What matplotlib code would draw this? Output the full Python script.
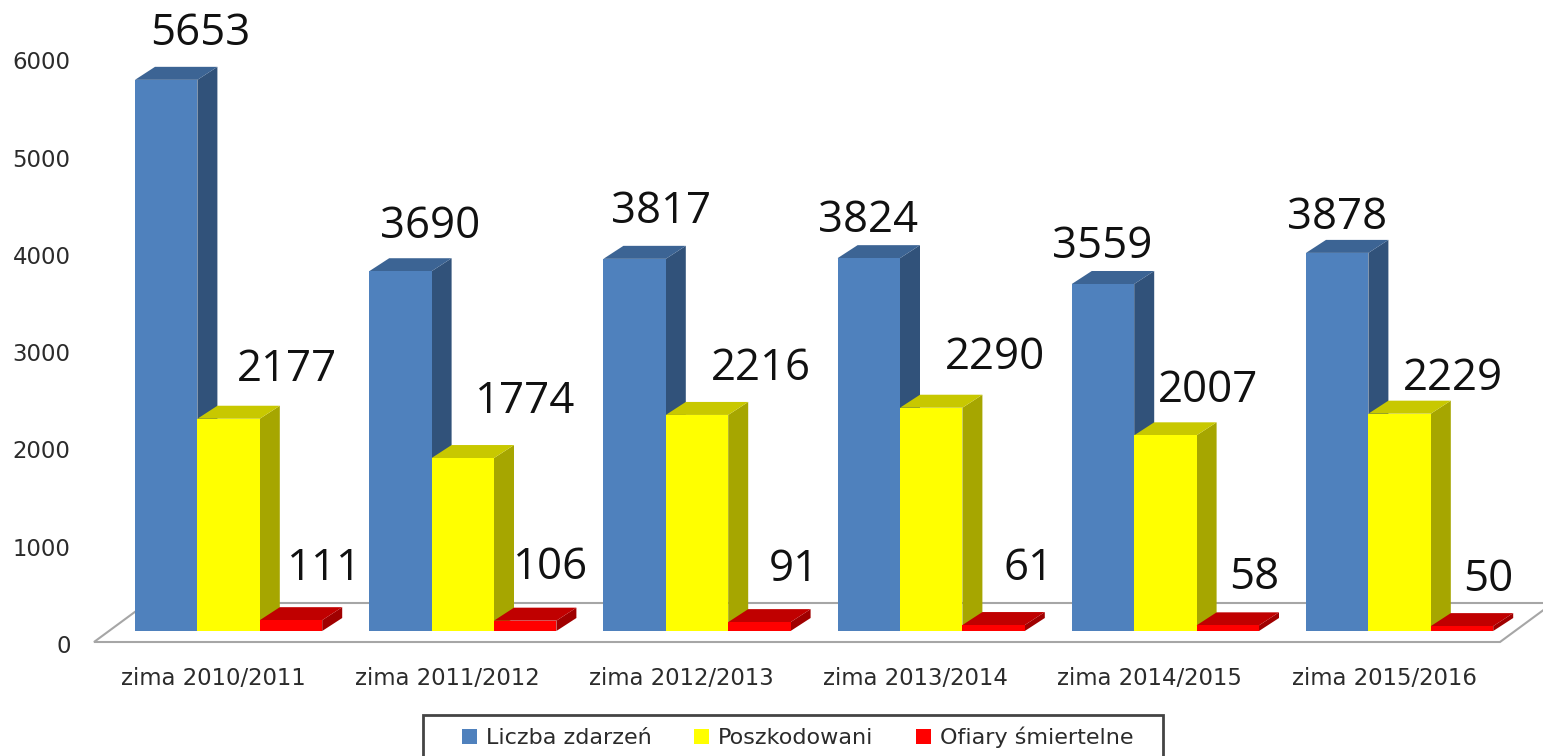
import matplotlib
matplotlib.use("Agg")
import matplotlib.pyplot as plt
import numpy as np
from matplotlib.patches import Patch, Polygon, Rectangle

W, H = 1543, 756

seasons = ["zima 2010/2011", "zima 2011/2012", "zima 2012/2013",
           "zima 2013/2014", "zima 2014/2015", "zima 2015/2016"]
zdarzenia = [5653, 3690, 3817, 3824, 3559, 3878]
poszkodowani = [2177, 1774, 2216, 2290, 2007, 2229]
ofiary = [111, 106, 91, 61, 58, 50]
y_ticks = [0, 1000, 2000, 3000, 4000, 5000, 6000]

# label offsets from the bar's top centre, in pixels
off_blue = [(34, 46), (30, 44), (26, 47), (-1, 37), (-1, 37), (0, 35)]
off_yellow = [(58, 49), (62, 56), (64, 46), (64, 50), (43, 45), (53, 35)]
off_red = [(33, 51), (25, 53), (34, 52), (35, 56), (26, 48), (26, 46)]

GROUP_PX = 234.2   # group spacing
BAR_PX = 62.4      # bar width
Y_PX = 0.0975      # pixels per unit
DX_PX, DY_PX = 20, 13  # 3d depth

C = {
    "blue": ("#4f81bd", "#3c6494", "#31527a"),
    "yellow": ("#ffff00", "#c8c800", "#a6a600"),
    "red": ("#ff0000", "#c00000", "#a00000"),
}

fig = plt.figure(figsize=(W / 100, H / 100), dpi=100)
left, right, top, bottom = 72, 1543, 0, 667
ax = fig.add_axes([left / W, 1 - bottom / H, (right - left) / W, (bottom - top) / H])
ax.set_xlim((left - 135) / GROUP_PX, (right - 135) / GROUP_PX)
ax.set_ylim((631 - bottom) / Y_PX, (631 - top) / Y_PX)
for s in ax.spines.values():
    s.set_visible(False)

bw = BAR_PX / GROUP_PX
dx = DX_PX / GROUP_PX
dy = DY_PX / Y_PX


def px(x_off, y_off):
    return x_off / GROUP_PX, y_off / Y_PX


# floor
fx0, fy0 = px(94 - 135, 631 - 642)
fx1, _ = px(1500 - 135, 0)
fx2, fy2 = px(1553 - 135, 631 - 603)
fx3, _ = px(147 - 135, 0)
ax.add_patch(Polygon([(fx0, fy0), (fx1, fy0), (fx2, fy2), (fx3, fy2)], closed=True,
                     facecolor="white", edgecolor="#a6a6a6", linewidth=1.5, zorder=1,
                     clip_on=False))

z = 2
for i in range(len(seasons)):
    series = [(zdarzenia[i], "blue", off_blue[i]),
              (poszkodowani[i], "yellow", off_yellow[i]),
              (ofiary[i], "red", off_red[i])]
    for j, (v, name, off) in enumerate(series):
        front, lid, side = C[name]
        x0 = i + j * bw
        x1 = x0 + bw
        ax.add_patch(Polygon([(x1, 0), (x1 + dx, dy), (x1 + dx, v + dy), (x1, v)],
                             closed=True, facecolor=side, edgecolor="none", zorder=z))
        ax.add_patch(Polygon([(x0, v), (x0 + dx, v + dy), (x1 + dx, v + dy), (x1, v)],
                             closed=True, facecolor=lid, edgecolor="none", zorder=z))
        ax.bar(x0, v, width=bw, align="edge", color=front, linewidth=0, zorder=z + 1)
        ax.annotate(str(v), (x0 + bw / 2, v), xytext=(off[0] * 0.72, off[1] * 0.72),
                    textcoords="offset points", ha="center", va="center",
                    fontsize=31.5, family="Open Sans", color="#111111",
                    zorder=30, annotation_clip=False)
        z += 2

ax.set_xticks(np.arange(len(seasons)) + (94 - 16) / GROUP_PX, labels=seasons)
ax.tick_params(axis="x", length=0, pad=0, labelsize=16.4, labelcolor="#2b2b2b")
ax.set_yticks([(v * 0.0973 - 13) / Y_PX for v in y_ticks], labels=[str(v) for v in y_ticks])
ax.tick_params(axis="y", length=0, pad=1, labelsize=16.4, labelcolor="#2b2b2b")

# legend frame runs off the bottom of the picture
fig.add_artist(Rectangle((423 / W, -10 / H), 740 / W, (756 - 715 + 10) / H,
                         transform=fig.transFigure, facecolor="white",
                         edgecolor="#444444", linewidth=2))
handles = [Patch(facecolor=C["blue"][0], label="Liczba zdarzeń"),
           Patch(facecolor=C["yellow"][0], label="Poszkodowani"),
           Patch(facecolor=C["red"][0], label="Ofiary śmiertelne")]
leg = fig.legend(handles=handles, ncol=3, loc="upper left",
                 bbox_to_anchor=(462 / W, 1 - 727 / H), borderaxespad=0,
                 fontsize=16, frameon=False, handlelength=0.68, handleheight=0.68,
                 handletextpad=0.4, columnspacing=1.9, borderpad=0)
for t in leg.get_texts():
    t.set_color("#2b2b2b")

fig.savefig("out.png", facecolor="white")
